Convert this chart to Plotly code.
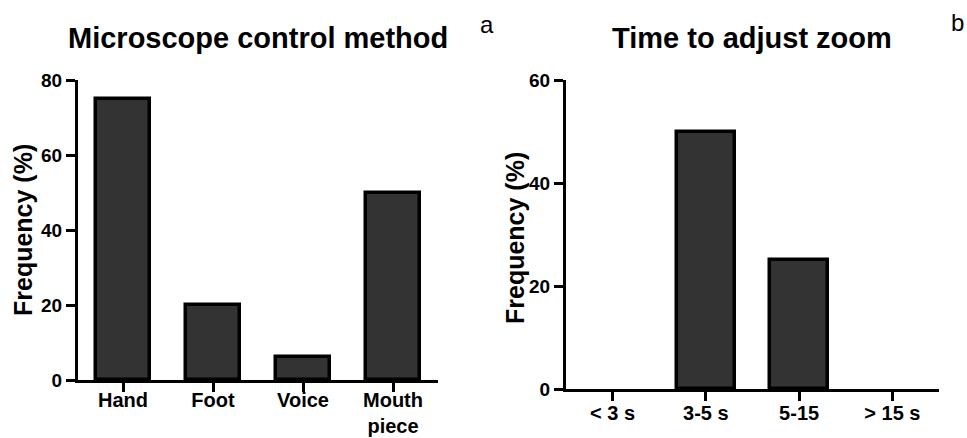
import plotly.graph_objects as go

W, H = 967, 438

cats_a = ["Hand", "Foot", "Voice", "Mouth<br>piece"]
vals_a = [75, 20, 6.25, 50]
yticks_a = [0, 20, 40, 60, 80]

cats_b = ["< 3 s", "3-5 s", "5-15", "> 15 s"]
vals_b = [0, 50, 25, 0]
yticks_b = [0, 20, 40, 60]

FONT = "Arial, Liberation Sans, sans-serif"
BAR_FILL = "#333333"

def px_x(p):
    return p / W

def px_y(p):
    return 1 - p / H

def outline_widths(vals):
    return [3.5 if v > 0 else 0 for v in vals]

fig = go.Figure()
fig.add_trace(go.Bar(x=list(range(len(cats_a))), y=vals_a, width=0.61,
                     marker=dict(color=BAR_FILL, line=dict(color="black", width=outline_widths(vals_a))),
                     xaxis="x", yaxis="y", showlegend=False))
fig.add_trace(go.Bar(x=list(range(len(cats_b))), y=vals_b, width=0.62,
                     marker=dict(color=BAR_FILL, line=dict(color="black", width=outline_widths(vals_b))),
                     xaxis="x2", yaxis="y2", showlegend=False))

axis_common = dict(showline=True, linecolor="black", linewidth=3, ticks="outside",
                   ticklen=9, tickwidth=3, tickcolor="black", showgrid=False,
                   zeroline=False, mirror=False, automargin=False,
                   tickfont=dict(family=FONT, size=19, color="black", weight="bold"))
xtickfont = dict(family=FONT, size=20, color="black", weight="bold")

fig.update_layout(
    width=W, height=H, margin=dict(l=0, r=0, t=0, b=0),
    paper_bgcolor="white", plot_bgcolor="white", bargap=0,
    xaxis=dict(domain=[px_x(78), px_x(438)], range=[-0.5, 3.5], anchor="y",
               tickvals=list(range(len(cats_a))), ticktext=cats_a, **axis_common),
    yaxis=dict(domain=[px_y(380), px_y(80)], range=[0, 80], anchor="x",
               tickvals=yticks_a, **axis_common),
    xaxis2=dict(domain=[px_x(566), px_x(939)], range=[-0.5, 3.5], anchor="y2",
                tickvals=list(range(len(cats_b))), ticktext=cats_b, **axis_common),
    yaxis2=dict(domain=[px_y(389), px_y(80)], range=[0, 60], anchor="x2",
                tickvals=yticks_b, **axis_common),
)
fig.update_xaxes(tickfont=xtickfont)
fig.update_layout(xaxis_ticklabelstandoff=-9, xaxis2_ticklabelstandoff=-5)

title_font = dict(family=FONT, size=29, color="black", weight="bold")
label_font = dict(family=FONT, size=25, color="black", weight="bold")
letter_font = dict(family=FONT, size=24, color="black")

fig.add_annotation(text="Microscope control method", x=px_x(258), y=px_y(38), xref="paper", yref="paper",
                   showarrow=False, font=title_font, xanchor="center", yanchor="middle")
fig.add_annotation(text="Time to adjust zoom", x=px_x(752), y=px_y(38), xref="paper", yref="paper",
                   showarrow=False, font=title_font, xanchor="center", yanchor="middle")
fig.add_annotation(text="a", x=px_x(487), y=px_y(24), xref="paper", yref="paper",
                   showarrow=False, font=letter_font, xanchor="center", yanchor="middle")
fig.add_annotation(text="b", x=px_x(957), y=px_y(22), xref="paper", yref="paper",
                   showarrow=False, font=letter_font, xanchor="center", yanchor="middle")
fig.add_annotation(text="Frequency (%)", x=px_x(23), y=px_y(230), xref="paper", yref="paper",
                   showarrow=False, font=label_font, textangle=-90, xanchor="center", yanchor="middle")
fig.add_annotation(text="Frequency (%)", x=px_x(515), y=px_y(238), xref="paper", yref="paper",
                   showarrow=False, font=label_font, textangle=-90, xanchor="center", yanchor="middle")

fig.write_html("out.html")
